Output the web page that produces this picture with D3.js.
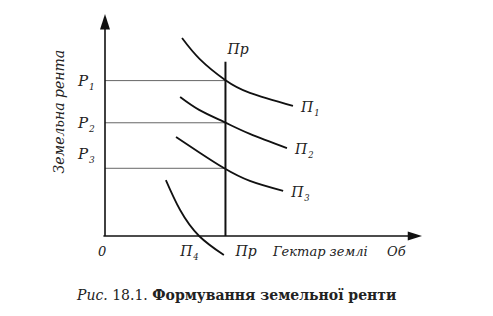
<!DOCTYPE html>
<html>
<head>
<meta charset="utf-8">
<script src="https://cdn.jsdelivr.net/npm/d3@7"></script>
<style>
  body { margin: 0; background: #fff; }
</style>
</head>
<body>
<svg id="chart"></svg>
<script>
// Data (abstract units)
const rentLevels = [7.0, 5.1, 3.05];          // P1, P2, P3
const rentLabels = ["1", "2", "3"];
const supplyX = 3.8;                          // Пр vertical line
const supplyTop = 7.85;
const curveNames = ["1", "2", "3", "4"];
const curve1 = [[2.43, 8.92], [2.99, 7.97], [3.79, 7.03], [4.57, 6.45], [5.93, 5.86]];
const curve2 = [[2.37, 6.26], [2.97, 5.68], [3.75, 5.14], [4.57, 4.6], [5.74, 3.96]];
const curve3 = [[2.24, 4.46], [3.0, 3.74], [3.75, 3.06], [4.57, 2.48], [5.62, 2.03]];
const curve4 = [[1.92, 2.52], [2.37, 1.17], [2.97, 0], [3.75, -0.86]];
const curves = [curve1, curve2, curve3, curve4];

const width = 493, height = 316;
const serif = "'DejaVu Serif', 'Liberation Serif', serif";
const svg = d3.select("#chart").attr("width", width).attr("height", height)
    .attr("font-family", serif).attr("fill", "#222");

const x = d3.scaleLinear().domain([0, 10]).range([105, 422]);
const y = d3.scaleLinear().domain([0, 10]).range([236, 14]);

// Horizontal guide lines
svg.selectAll(".guide")
    .data(rentLevels)
  .join("line")
    .attr("x1", x(0)).attr("x2", x(supplyX))
    .attr("y1", d => y(d)).attr("y2", d => y(d))
    .attr("stroke", "#666").attr("stroke-width", 1);

// Axes
svg.append("line")
    .attr("x1", x(0)).attr("y1", y(0)).attr("x2", x(0)).attr("y2", y(9.4))
    .attr("stroke", "#111").attr("stroke-width", 1.6);
svg.append("line")
    .attr("x1", x(-0.05)).attr("y1", y(0)).attr("x2", x(9.6)).attr("y2", y(0))
    .attr("stroke", "#111").attr("stroke-width", 1.6);
// arrow heads
svg.append("path")
    .attr("d", `M${x(0)},${y(10)} L${x(0) - 5},${y(9.3)} L${x(0) + 5},${y(9.3)} Z`)
    .attr("fill", "#111");
svg.append("path")
    .attr("d", `M${x(10)},${y(0)} L${x(9.55)},${y(0) - 4.5} L${x(9.55)},${y(0) + 4.5} Z`)
    .attr("fill", "#111");

// Vertical Пр line
svg.append("line")
    .attr("x1", x(supplyX)).attr("y1", y(0)).attr("x2", x(supplyX)).attr("y2", y(supplyTop))
    .attr("stroke", "#111").attr("stroke-width", 2);

// Curves
const line = d3.line().x(d => x(d[0])).y(d => y(d[1])).curve(d3.curveNatural);
svg.selectAll(".curve")
    .data(curves)
  .join("path")
    .attr("d", line)
    .attr("fill", "none").attr("stroke", "#111").attr("stroke-width", 1.8);

// Curve labels П1..П3 (at right end), П4 below axis
function subLabel(g, px, py, main, sub, size) {
  const t = g.append("text").attr("x", px).attr("y", py)
      .attr("font-style", "italic").attr("font-size", size);
  t.append("tspan").text(main);
  t.append("tspan").attr("font-size", size * 0.6).attr("dy", 4).attr("dx", 1).text(sub);
}
curves.slice(0, 3).forEach((c, i) => {
  const end = c[c.length - 1];
  subLabel(svg, x(end[0]) + 8, y(end[1]) + 6, "П", curveNames[i], 14);
});
subLabel(svg, x(2.37), y(0) + 20, "П", curveNames[3], 14);

// P labels
rentLevels.forEach((v, i) => {
  const off = i === 2 ? -9 : 5;
  subLabel(svg, x(0) - 27, y(v) + off, "P", rentLabels[i], 15);
});

// Other labels
svg.append("text").attr("x", x(supplyX) + 2).attr("y", y(supplyTop) - 8)
    .attr("font-style", "italic").attr("font-size", 14).text("Пр");
svg.append("text").attr("x", x(0) - 7).attr("y", y(0) + 20)
    .attr("font-style", "italic").attr("font-size", 13).text("0");
svg.append("text").attr("x", x(supplyX) + 10).attr("y", y(0) + 20)
    .attr("font-style", "italic").attr("font-size", 14).text("Пр");
svg.append("text").attr("x", 273).attr("y", y(0) + 20)
    .attr("font-style", "italic").attr("font-size", 13).text("Гектар землі");
svg.append("text").attr("x", 387).attr("y", y(0) + 20)
    .attr("font-style", "italic").attr("font-size", 13).text("Об");

// Y axis title
svg.append("text")
    .attr("transform", `translate(64,${y(5.6)}) rotate(-90)`)
    .attr("text-anchor", "middle")
    .attr("font-style", "italic").attr("font-size", 14)
    .text("Земельна рента");

// Caption
const cap = svg.append("text").attr("x", 77).attr("y", 300).attr("font-size", 14);
cap.append("tspan").attr("font-style", "italic").text("Рис. ");
cap.append("tspan").text("18.1. ");
cap.append("tspan").attr("font-weight", "bold").text("Формування земельної ренти");
</script>
</body>
</html>
